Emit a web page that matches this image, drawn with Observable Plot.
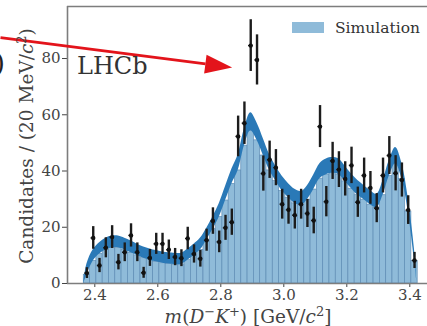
<!DOCTYPE html>
<html><head><meta charset="utf-8">
<script src="https://cdn.jsdelivr.net/npm/d3@7"></script>
<script src="https://cdn.jsdelivr.net/npm/@observablehq/plot@0.6"></script>
<style>
html,body{margin:0;padding:0;background:#fff;}
#chart{width:427px;height:326px;overflow:hidden;}
</style></head><body><div id="chart"></div>
<script>
// bin centres, m(D-K+) in GeV/c^2 (20 MeV bins)
const binCenters = [2.375,2.395,2.415,2.435,2.455,2.475,2.495,2.515,2.535,2.555,
  2.575,2.595,2.615,2.635,2.655,2.675,2.695,2.715,2.735,2.755,
  2.775,2.795,2.815,2.835,2.855,2.875,2.895,2.915,2.935,2.955,
  2.975,2.995,3.015,3.035,3.055,3.075,3.095,3.115,3.135,3.155,
  3.175,3.195,3.215,3.235,3.255,3.275,3.295,3.315,3.335,3.355,
  3.375,3.395,3.415];
// LHCb data (candidates per bin)
const dataCounts = [3.7,16.2,6.4,12.7,16.5,7.6,11.1,17.1,11.1,3.8,
  9.1,14.1,14.1,12.0,9.4,9.0,16.0,10.5,8.8,15.4,
  22.2,14.8,19.8,21.8,52.3,57.0,84.6,79.5,39.1,44.0,
  41.2,28.2,26.2,24.3,28.2,24.9,22.4,55.8,29.1,43.6,
  40.5,37.2,42.0,28.9,38.4,34.0,26.8,38.4,45.5,39.2,
  36.8,26.1,8.2];
// simulation: centre of the band and its half width
const simMid = [5,10,12.5,14,14.8,14.8,14,13,12,11,
  10.3,9.7,9.2,8.9,8.7,8.8,10.3,12,14,17.5,
  21.5,26,32,38,43,52,57.5,54,48.5,43,
  39,35.5,33,31,30.2,32.3,36,40,41.5,42,
  41.5,39,36.3,34,32.3,30.5,29.3,34,41,45.5,
  40,28,10];
const simHalf = [1.9,2.0,2.0,2.1,2.1,2.1,2.1,2.1,2.0,2.0,
  2.0,2.0,2.0,2.0,2.0,2.0,2.0,2.0,2.1,2.1,
  2.2,2.4,2.5,2.6,2.8,3.0,3.2,3.1,3.0,2.8,
  2.6,2.6,2.5,2.5,2.5,2.5,2.6,2.7,2.8,2.8,
  2.8,2.7,2.6,2.6,2.5,2.5,2.4,2.6,2.8,2.9,
  2.8,2.4,2.0];
const bandEnds = [2.365, 3.423];
const xTicks = [2.4, 2.6, 2.8, 3.0, 3.2, 3.4];
const yTicks = [0, 20, 40, 60, 80];
const xDomain = [2.3133, 3.4562];
const yDomain = [0, 98.5];
const arrowStart = {x: 2.1006, y: 87.4};
const arrowBase = {x: 2.7514, y: 78.1};
const arrowTip = {x: 2.836, y: 76.8};
const legendLabel = "Simulation";
const experimentLabel = "LHCb";

const points = binCenters.map((m, i) => ({m, n: dataCounts[i], err: Math.sqrt(dataCounts[i])}));
const bars = binCenters.map((m, i) => ({x1: m - 0.01, x2: m + 0.01, y: simMid[i] - simHalf[i]}));
const band = [{x: bandEnds[0], lo: 0, hi: 0}]
  .concat(binCenters.map((m, i) => ({x: m, lo: simMid[i] - simHalf[i], hi: simMid[i] + simHalf[i]})))
  .concat([{x: bandEnds[1], lo: 0, hi: 0}]);

const headSymbol = {
  draw(ctx) {
    ctx.moveTo(0, 0);
    ctx.lineTo(-27, -9.5);
    ctx.lineTo(-27, 9.5);
    ctx.closePath();
  }
};

const frameColor = "#7d7d7d";
const chart = Plot.plot({
  width: 427, height: 326,
  marginLeft: 67, marginRight: 0, marginTop: 6, marginBottom: 43,
  style: {fontFamily: "DejaVu Serif", fontSize: "15px", color: "#444", background: "white"},
  x: {domain: xDomain, ticks: xTicks, tickFormat: d3.format(".1f"), tickSize: 4, tickPadding: 2, label: null},
  y: {domain: yDomain, ticks: yTicks, tickSize: 5, tickPadding: 2, label: null},
  marks: [
    Plot.rectY(bars, {x1: "x1", x2: "x2", y: "y", fill: "#8fbbd9", stroke: "#5f8db5", strokeWidth: 0.7}),
    Plot.areaY(band, {x: "x", y1: "lo", y2: "hi", fill: "#2a79b7", curve: "catmull-rom"}),
    Plot.ruleX([xDomain[0]], {stroke: frameColor, strokeWidth: 1.6}),
    Plot.ruleY([yDomain[0]], {stroke: frameColor, strokeWidth: 1.6}),
    Plot.ruleY([yDomain[1]], {stroke: frameColor, strokeWidth: 1.6}),
    Plot.ruleX(points, {x: "m", y1: d => d.n - d.err, y2: d => d.n + d.err, stroke: "#1c1c1c", strokeWidth: 2.4}),
    Plot.ruleY(points, {y: "n", x1: d => d.m - 0.007, x2: d => d.m + 0.007, stroke: "#1c1c1c", strokeWidth: 1.4}),
    Plot.dot(points, {x: "m", y: "n", r: 2.2, fill: "#111"}),
    Plot.link([{a: arrowStart, b: arrowBase}], {x1: d => d.a.x, y1: d => d.a.y, x2: d => d.b.x, y2: d => d.b.y, stroke: "#e3141b", strokeWidth: 2.8}),
    Plot.dot([arrowTip], {x: "x", y: "y", symbol: headSymbol, r: 10, fill: "#e3141b", stroke: "none", rotate: 7.3})
  ]
});
document.getElementById("chart").appendChild(chart);

const svg = d3.select(chart);
// cut-off panel label at the left edge (as in the cropped reference)
svg.append("text").attr("x", 5).attr("y", 72).attr("text-anchor", "end")
  .attr("font-size", 26).attr("fill", "#222").text(")");
// experiment label
svg.append("text").attr("x", 77).attr("y", 74).attr("text-anchor", "start")
  .attr("font-size", 24).attr("fill", "#333").text(experimentLabel);
// legend
svg.append("rect").attr("x", 292).attr("y", 22).attr("width", 32).attr("height", 11).attr("fill", "#8fbbd9");
svg.append("text").attr("x", 335).attr("y", 32.5).attr("text-anchor", "start")
  .attr("font-size", 15.5).attr("fill", "#333").text(legendLabel);
// y label
const yl = svg.append("text").attr("transform", "translate(33,146) rotate(-90)")
  .attr("text-anchor", "middle").attr("font-size", 18.5).attr("fill", "#444");
yl.append("tspan").text("Candidates / (20 MeV/");
yl.append("tspan").attr("font-style", "italic").text("c");
yl.append("tspan").attr("dy", -7).attr("font-size", 13).text("2");
yl.append("tspan").attr("dy", 7).text(")");
// x label
const xl = svg.append("text").attr("x", 248).attr("y", 323)
  .attr("text-anchor", "middle").attr("font-size", 18.5).attr("fill", "#444");
xl.append("tspan").attr("font-style", "italic").text("m");
xl.append("tspan").text("(");
xl.append("tspan").attr("font-style", "italic").text("D");
xl.append("tspan").attr("dy", -7).attr("font-size", 13).text("\u2212");
xl.append("tspan").attr("dy", 7).attr("font-style", "italic").text("K");
xl.append("tspan").attr("dy", -7).attr("font-size", 13).text("+");
xl.append("tspan").attr("dy", 7).text(") [GeV/");
xl.append("tspan").attr("font-style", "italic").text("c");
xl.append("tspan").attr("dy", -7).attr("font-size", 13).text("2");
xl.append("tspan").attr("dy", 7).text("]");
</script></body></html>
